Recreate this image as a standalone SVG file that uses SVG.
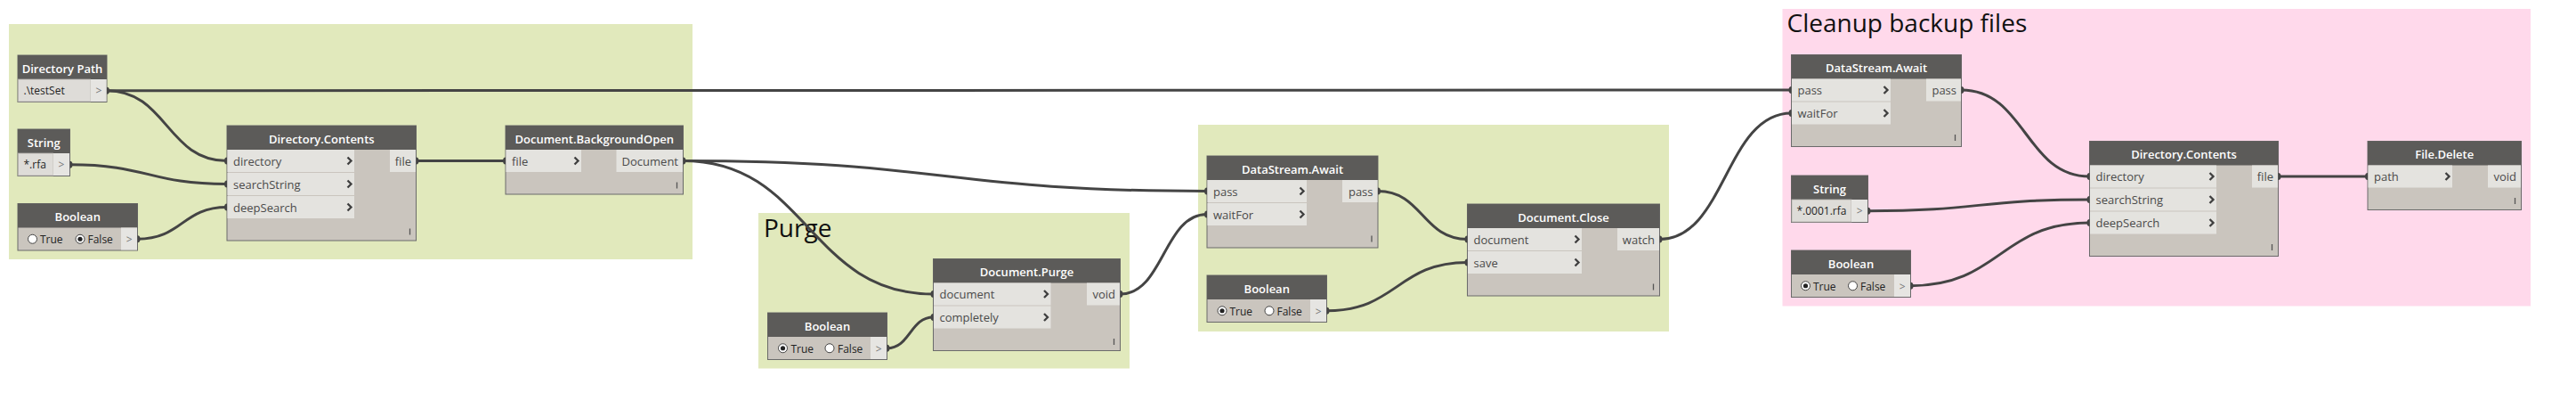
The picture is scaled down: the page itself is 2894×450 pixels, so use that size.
<svg xmlns="http://www.w3.org/2000/svg" width="2894" height="450" viewBox="0 0 2894 450">
<style>
.grp{fill:#e1e9bc}
.grpP{fill:#ffd9eb}
.gt{font-family:"Open Sans","Liberation Sans",sans-serif;font-size:28px;fill:#111}
.body{fill:#cac5be;stroke:#6a6a6a;stroke-width:1}
.hdr{fill:#5c5b59}
.row{fill:#e4e3df}
.fld{fill:#dedcd8;stroke:#b3b0ab;stroke-width:0.8}
.box{fill:#e6e5e2}
.ht{font-family:"Open Sans","Liberation Sans",sans-serif;font-size:13px;font-weight:600;fill:#ffffff;text-anchor:middle}
.pt{font-family:"Open Sans","Liberation Sans",sans-serif;font-size:13px;fill:#4a4a4a}
.po{font-family:"Open Sans","Liberation Sans",sans-serif;font-size:13px;fill:#4a4a4a;text-anchor:end}
.val{font-family:"Open Sans","Liberation Sans",sans-serif;font-size:12px;fill:#222}
.gtr{font-family:"Open Sans","Liberation Sans",sans-serif;font-size:12px;fill:#777;text-anchor:middle}
.chev{fill:none;stroke:#3f3f3f;stroke-width:2.3}
.lace{stroke:#555;stroke-width:1.3}
.tab{fill:#444}
.rad{fill:#fff;stroke:#444;stroke-width:1}
.dot{fill:#222}
.wire{fill:none;stroke:#444;stroke-width:3}
</style>

<g id="groups">
<rect class="grp" x="10" y="27" width="768" height="264"/>
<rect class="grp" x="852" y="239" width="417" height="174.5"/>
<text class="gt" x="858" y="266">Purge</text>
<rect class="grp" x="1346" y="140" width="529" height="232"/>
<rect class="grpP" x="2002.5" y="10" width="840.5" height="333.5"/>
<text class="gt" x="2007.5" y="36">Cleanup backup files</text>
</g>

<g id="connectors">
<path class="wire" d="M120,101.75 C187.5,101.75 187.5,180.5 255,180.5"/>
<path class="wire" d="M120,101.75 C1066,101.75 1066,101 2012.5,101"/>
<path class="wire" d="M78.5,184.75 C166.75,184.75 166.75,206.5 255,206.5"/>
<path class="wire" d="M154.5,268.25 C204.75,268.25 204.75,232.5 255,232.5"/>
<path class="wire" d="M467.5,180.5 L568,180.5"/>
<path class="wire" d="M767.5,180.5 C1061.75,180.5 1061.75,214.5 1356,214.5"/>
<path class="wire" d="M767.5,180.5 C908,180.5 908,330 1048.5,330"/>
<path class="wire" d="M996.5,390.75 C1022.5,390.75 1022.5,356 1048.5,356"/>
<path class="wire" d="M1258.5,330 C1307.25,330 1307.25,240.5 1356,240.5"/>
<path class="wire" d="M1548,214.5 C1598.25,214.5 1598.25,268.5 1648.5,268.5"/>
<path class="wire" d="M1490.5,348.75 C1569.5,348.75 1569.5,294.5 1648.5,294.5"/>
<path class="wire" d="M1864.5,268.5 C1938.5,268.5 1938.5,127 2012.5,127"/>
<path class="wire" d="M2203.5,101 C2275.5,101 2275.5,198 2347.5,198"/>
<path class="wire" d="M2098.5,236.75 C2223,236.75 2223,224 2347.5,224"/>
<path class="wire" d="M2146.5,320.75 C2247,320.75 2247,250 2347.5,250"/>
<path class="wire" d="M2559.5,198 L2660,198"/>
</g>

<!-- Directory Path -->
<g id="node-directory-path">
<rect class="body" x="20" y="62" width="100" height="52.5"/>
<rect class="hdr" x="20" y="62" width="100" height="27"/>
<text class="ht" x="70" y="81.5">Directory Path</text>
<rect class="fld" x="20.5" y="89" width="81" height="25"/>
<rect class="box" x="101.5" y="89" width="18" height="25"/>
<text class="val" x="26.5" y="106">.\testSet</text>
<text class="gtr" x="111" y="106">&gt;</text>
<path class="tab" d="M120,97.75 a3,4 0 0 1 0,8 z"/>
</g>

<!-- String *.rfa -->
<g id="node-string-1">
<rect class="body" x="20" y="145" width="58.5" height="52.5"/>
<rect class="hdr" x="20" y="145" width="58.5" height="27"/>
<text class="ht" x="49.25" y="164.5">String</text>
<rect class="fld" x="20.5" y="172" width="39" height="25"/>
<rect class="box" x="59.5" y="172" width="18.5" height="25"/>
<text class="val" x="26.5" y="189">*.rfa</text>
<text class="gtr" x="69" y="189">&gt;</text>
<path class="tab" d="M78.5,180.75 a3,4 0 0 1 0,8 z"/>
</g>

<!-- Boolean 1 -->
<g id="node-boolean-1">
<rect class="body" x="20" y="228.5" width="134.5" height="52.5"/>
<rect class="hdr" x="20" y="228.5" width="134.5" height="27"/>
<text class="ht" x="87.25" y="248">Boolean</text>
<rect class="box" x="136" y="255.5" width="18" height="25"/>
<circle class="rad" cx="36.5" cy="268.25" r="5"/>
<text class="val" x="45" y="273">True</text>
<circle class="rad" cx="90" cy="268.25" r="5"/>
<circle class="dot" cx="90" cy="268.25" r="2.6"/>
<text class="val" x="98.5" y="273">False</text>
<text class="gtr" x="145.25" y="273">&gt;</text>
<path class="tab" d="M154.5,264.25 a3,4 0 0 1 0,8 z"/>
</g>

<!-- Directory.Contents 1 -->
<g id="node-directory-contents-1">
<rect class="body" x="255" y="141" width="212.5" height="129"/>
<rect class="hdr" x="255" y="141" width="212.5" height="27"/>
<text class="ht" x="361.25" y="160.5">Directory.Contents</text>
<rect class="row" x="255.5" y="168" width="142.5" height="25"/>
<rect class="row" x="255.5" y="194" width="142.5" height="25"/>
<rect class="row" x="255.5" y="220" width="142.5" height="25"/>
<text class="pt" x="262" y="185.5">directory</text>
<text class="pt" x="262" y="211.5">searchString</text>
<text class="pt" x="262" y="237.5">deepSearch</text>
<polyline class="chev" points="390.5,176.5 394.5,180.5 390.5,184.5"/>
<polyline class="chev" points="390.5,202.5 394.5,206.5 390.5,210.5"/>
<polyline class="chev" points="390.5,228.5 394.5,232.5 390.5,236.5"/>
<rect class="row" x="438" y="168" width="29" height="25"/>
<text class="po" x="462" y="185.5">file</text>
<line class="lace" x1="460.5" y1="256.5" x2="460.5" y2="263.5"/>
<path class="tab" d="M255,176.5 a3,4 0 0 0 0,8 z"/>
<path class="tab" d="M255,202.5 a3,4 0 0 0 0,8 z"/>
<path class="tab" d="M255,228.5 a3,4 0 0 0 0,8 z"/>
<path class="tab" d="M467.5,176.5 a3,4 0 0 1 0,8 z"/>
</g>

<!-- Document.BackgroundOpen -->
<g id="node-background-open">
<rect class="body" x="568" y="141" width="199.5" height="77"/>
<rect class="hdr" x="568" y="141" width="199.5" height="27"/>
<text class="ht" x="667.75" y="160.5">Document.BackgroundOpen</text>
<rect class="row" x="568.5" y="168" width="84.5" height="25"/>
<text class="pt" x="575" y="185.5">file</text>
<polyline class="chev" points="645.5,176.5 649.5,180.5 645.5,184.5"/>
<rect class="row" x="692.5" y="168" width="74.5" height="25"/>
<text class="po" x="762" y="185.5">Document</text>
<line class="lace" x1="760.5" y1="204.5" x2="760.5" y2="211.5"/>
<path class="tab" d="M568,176.5 a3,4 0 0 0 0,8 z"/>
<path class="tab" d="M767.5,176.5 a3,4 0 0 1 0,8 z"/>
</g>

<!-- Boolean (Purge) -->
<g id="node-boolean-purge">
<rect class="body" x="862.5" y="351" width="134" height="52.5"/>
<rect class="hdr" x="862.5" y="351" width="134" height="27"/>
<text class="ht" x="929.5" y="370.5">Boolean</text>
<rect class="box" x="978" y="378" width="18" height="25"/>
<circle class="rad" cx="879.5" cy="390.75" r="5"/>
<circle class="dot" cx="879.5" cy="390.75" r="2.6"/>
<text class="val" x="888.5" y="395.5">True</text>
<circle class="rad" cx="932" cy="390.75" r="5"/>
<text class="val" x="941" y="395.5">False</text>
<text class="gtr" x="987.25" y="395.5">&gt;</text>
<path class="tab" d="M996.5,386.75 a3,4 0 0 1 0,8 z"/>
</g>

<!-- Document.Purge -->
<g id="node-document-purge">
<rect class="body" x="1048.5" y="290.5" width="210" height="103"/>
<rect class="hdr" x="1048.5" y="290.5" width="210" height="27"/>
<text class="ht" x="1153.5" y="310">Document.Purge</text>
<rect class="row" x="1049" y="317.5" width="131.5" height="25"/>
<rect class="row" x="1049" y="343.5" width="131.5" height="25"/>
<text class="pt" x="1055.5" y="335">document</text>
<text class="pt" x="1055.5" y="361">completely</text>
<polyline class="chev" points="1173,326 1177,330 1173,334"/>
<polyline class="chev" points="1173,352 1177,356 1173,360"/>
<rect class="row" x="1221" y="317.5" width="37" height="25"/>
<text class="po" x="1253" y="335">void</text>
<line class="lace" x1="1251.5" y1="380" x2="1251.5" y2="387"/>
<path class="tab" d="M1048.5,326 a3,4 0 0 0 0,8 z"/>
<path class="tab" d="M1048.5,352 a3,4 0 0 0 0,8 z"/>
<path class="tab" d="M1258.5,326 a3,4 0 0 1 0,8 z"/>
</g>

<!-- DataStream.Await 1 -->
<g id="node-await-1">
<rect class="body" x="1356" y="175" width="192" height="103"/>
<rect class="hdr" x="1356" y="175" width="192" height="27"/>
<text class="ht" x="1452" y="194.5">DataStream.Await</text>
<rect class="row" x="1356.5" y="202" width="111.5" height="25"/>
<rect class="row" x="1356.5" y="228" width="111.5" height="25"/>
<text class="pt" x="1363" y="219.5">pass</text>
<text class="pt" x="1363" y="245.5">waitFor</text>
<polyline class="chev" points="1460.5,210.5 1464.5,214.5 1460.5,218.5"/>
<polyline class="chev" points="1460.5,236.5 1464.5,240.5 1460.5,244.5"/>
<rect class="row" x="1508" y="202" width="39.5" height="25"/>
<text class="po" x="1542.5" y="219.5">pass</text>
<line class="lace" x1="1541" y1="264.5" x2="1541" y2="271.5"/>
<path class="tab" d="M1356,210.5 a3,4 0 0 0 0,8 z"/>
<path class="tab" d="M1356,236.5 a3,4 0 0 0 0,8 z"/>
<path class="tab" d="M1548,210.5 a3,4 0 0 1 0,8 z"/>
</g>

<!-- Boolean 2 -->
<g id="node-boolean-2">
<rect class="body" x="1356" y="309" width="134.5" height="52.5"/>
<rect class="hdr" x="1356" y="309" width="134.5" height="27"/>
<text class="ht" x="1423.25" y="328.5">Boolean</text>
<rect class="box" x="1472" y="336" width="18" height="25"/>
<circle class="rad" cx="1373" cy="348.75" r="5"/>
<circle class="dot" cx="1373" cy="348.75" r="2.6"/>
<text class="val" x="1381.5" y="353.5">True</text>
<circle class="rad" cx="1426" cy="348.75" r="5"/>
<text class="val" x="1434.5" y="353.5">False</text>
<text class="gtr" x="1481.25" y="353.5">&gt;</text>
<path class="tab" d="M1490.5,344.75 a3,4 0 0 1 0,8 z"/>
</g>

<!-- Document.Close -->
<g id="node-document-close">
<rect class="body" x="1648.5" y="229" width="216" height="103"/>
<rect class="hdr" x="1648.5" y="229" width="216" height="27"/>
<text class="ht" x="1756.5" y="248.5">Document.Close</text>
<rect class="row" x="1649" y="256" width="128" height="25"/>
<rect class="row" x="1649" y="282" width="128" height="25"/>
<text class="pt" x="1655.5" y="273.5">document</text>
<text class="pt" x="1655.5" y="299.5">save</text>
<polyline class="chev" points="1769.5,264.5 1773.5,268.5 1769.5,272.5"/>
<polyline class="chev" points="1769.5,290.5 1773.5,294.5 1769.5,298.5"/>
<rect class="row" x="1817" y="256" width="47" height="25"/>
<text class="po" x="1859" y="273.5">watch</text>
<line class="lace" x1="1857.5" y1="318.5" x2="1857.5" y2="325.5"/>
<path class="tab" d="M1648.5,264.5 a3,4 0 0 0 0,8 z"/>
<path class="tab" d="M1648.5,290.5 a3,4 0 0 0 0,8 z"/>
<path class="tab" d="M1864.5,264.5 a3,4 0 0 1 0,8 z"/>
</g>

<!-- DataStream.Await 2 -->
<g id="node-await-2">
<rect class="body" x="2012.5" y="61.5" width="191" height="103"/>
<rect class="hdr" x="2012.5" y="61.5" width="191" height="27"/>
<text class="ht" x="2108" y="81">DataStream.Await</text>
<rect class="row" x="2013" y="88.5" width="111" height="25"/>
<rect class="row" x="2013" y="114.5" width="111" height="25"/>
<text class="pt" x="2019.5" y="106">pass</text>
<text class="pt" x="2019.5" y="132">waitFor</text>
<polyline class="chev" points="2116.5,97 2120.5,101 2116.5,105"/>
<polyline class="chev" points="2116.5,123 2120.5,127 2116.5,131"/>
<rect class="row" x="2164" y="88.5" width="39" height="25"/>
<text class="po" x="2198" y="106">pass</text>
<line class="lace" x1="2196.5" y1="151" x2="2196.5" y2="158"/>
<path class="tab" d="M2012.5,97 a3,4 0 0 0 0,8 z"/>
<path class="tab" d="M2012.5,123 a3,4 0 0 0 0,8 z"/>
<path class="tab" d="M2203.5,97 a3,4 0 0 1 0,8 z"/>
</g>

<!-- String *.0001.rfa -->
<g id="node-string-2">
<rect class="body" x="2012.5" y="197" width="86" height="52.5"/>
<rect class="hdr" x="2012.5" y="197" width="86" height="27"/>
<text class="ht" x="2055.5" y="216.5">String</text>
<rect class="fld" x="2013" y="224" width="67" height="25"/>
<rect class="box" x="2080" y="224" width="18" height="25"/>
<text class="val" x="2018.5" y="241">*.0001.rfa</text>
<text class="gtr" x="2089.25" y="241">&gt;</text>
<path class="tab" d="M2098.5,232.75 a3,4 0 0 1 0,8 z"/>
</g>

<!-- Boolean 3 -->
<g id="node-boolean-3">
<rect class="body" x="2012.5" y="281" width="134" height="52.5"/>
<rect class="hdr" x="2012.5" y="281" width="134" height="27"/>
<text class="ht" x="2079.5" y="300.5">Boolean</text>
<rect class="box" x="2128" y="308" width="18" height="25"/>
<circle class="rad" cx="2028.5" cy="320.75" r="5"/>
<circle class="dot" cx="2028.5" cy="320.75" r="2.6"/>
<text class="val" x="2037" y="325.5">True</text>
<circle class="rad" cx="2081.5" cy="320.75" r="5"/>
<text class="val" x="2090" y="325.5">False</text>
<text class="gtr" x="2137.25" y="325.5">&gt;</text>
<path class="tab" d="M2146.5,316.75 a3,4 0 0 1 0,8 z"/>
</g>

<!-- Directory.Contents 2 -->
<g id="node-directory-contents-2">
<rect class="body" x="2347.5" y="158.5" width="212" height="129"/>
<rect class="hdr" x="2347.5" y="158.5" width="212" height="27"/>
<text class="ht" x="2453.5" y="178">Directory.Contents</text>
<rect class="row" x="2348" y="185.5" width="142" height="25"/>
<rect class="row" x="2348" y="211.5" width="142" height="25"/>
<rect class="row" x="2348" y="237.5" width="142" height="25"/>
<text class="pt" x="2354.5" y="203">directory</text>
<text class="pt" x="2354.5" y="229">searchString</text>
<text class="pt" x="2354.5" y="255">deepSearch</text>
<polyline class="chev" points="2482.5,194 2486.5,198 2482.5,202"/>
<polyline class="chev" points="2482.5,220 2486.5,224 2482.5,228"/>
<polyline class="chev" points="2482.5,246 2486.5,250 2482.5,254"/>
<rect class="row" x="2530" y="185.5" width="29" height="25"/>
<text class="po" x="2554" y="203">file</text>
<line class="lace" x1="2552.5" y1="274" x2="2552.5" y2="281"/>
<path class="tab" d="M2347.5,194 a3,4 0 0 0 0,8 z"/>
<path class="tab" d="M2347.5,220 a3,4 0 0 0 0,8 z"/>
<path class="tab" d="M2347.5,246 a3,4 0 0 0 0,8 z"/>
<path class="tab" d="M2559.5,194 a3,4 0 0 1 0,8 z"/>
</g>

<!-- File.Delete -->
<g id="node-file-delete">
<rect class="body" x="2660" y="158.5" width="172.5" height="77"/>
<rect class="hdr" x="2660" y="158.5" width="172.5" height="27"/>
<text class="ht" x="2746.25" y="178">File.Delete</text>
<rect class="row" x="2660.5" y="185.5" width="94.5" height="25"/>
<text class="pt" x="2667" y="203">path</text>
<polyline class="chev" points="2747.5,194 2751.5,198 2747.5,202"/>
<rect class="row" x="2795" y="185.5" width="37" height="25"/>
<text class="po" x="2827" y="203">void</text>
<line class="lace" x1="2825.5" y1="222" x2="2825.5" y2="229"/>
<path class="tab" d="M2660,194 a3,4 0 0 0 0,8 z"/>
</g>
</svg>
